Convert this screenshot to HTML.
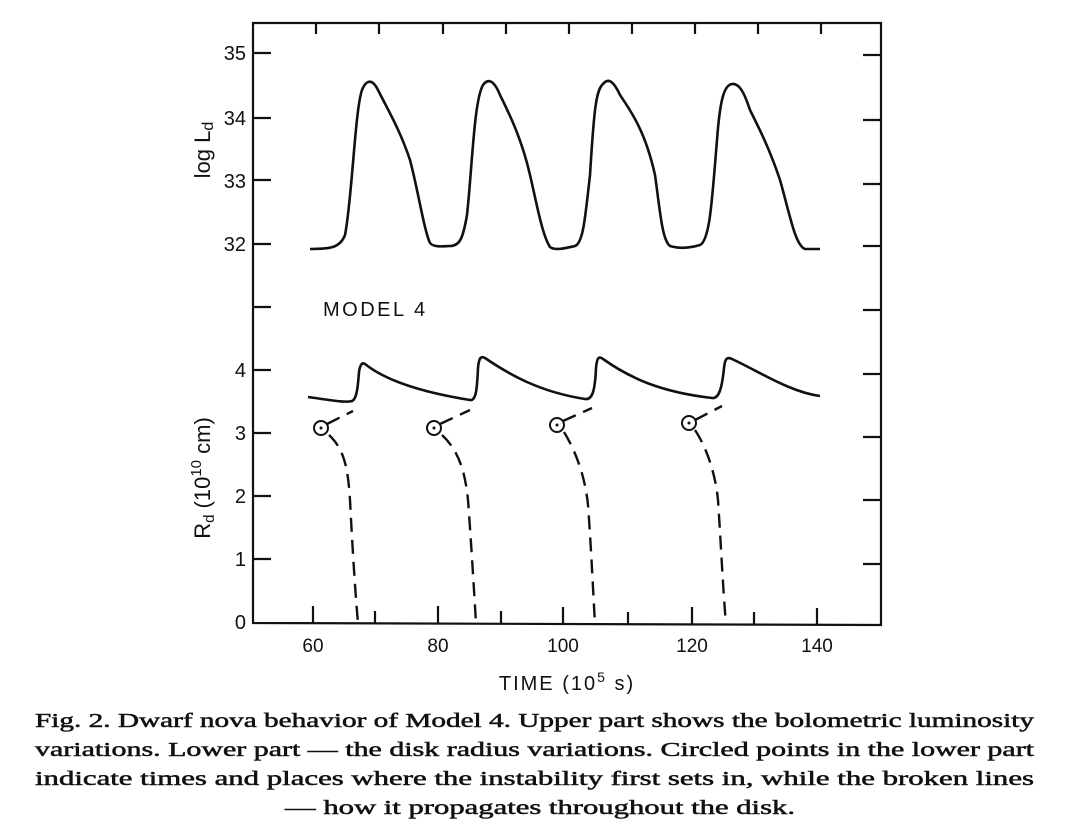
<!DOCTYPE html>
<html><head><meta charset="utf-8"><style>
html,body{margin:0;padding:0;background:#fff;}
svg{display:block;}
</style></head><body>
<svg width="1074" height="840" viewBox="0 0 1074 840" xmlns="http://www.w3.org/2000/svg">
<g fill="none" stroke="#111" stroke-width="2.2">
<path d="M253,23 L881,23 L881,625 L253,623 Z"/>
<path d="M253,53h18M253,118h18M253,180h18M253,244h18M253,307h18M253,370h18M253,433h18M253,496h18M253,559h18"/>
<path d="M881,55h-18M881,120h-18M881,184h-18M881,246h-18M881,310h-18M881,374h-18M881,437h-18M881,500h-18M881,564h-18"/>
<path d="M316,23v11M379,23v11M443,23v11M506,23v11M569,23v11M632,23v11M695,23v11M758,23v11M821,23v11"/>
<path d="M313,623v-17M375,623v-12M438,623v-17M501,623v-12M563,624v-17M628,624v-12M692,624v-17M754,624v-12M817,625v-17"/>
</g>
<path fill="none" stroke="#111" stroke-width="2.6" d="M310,249 C330,249 340,248 345,235 C352,200 355,110 362,90 C366,80 372,78 378,90 C388,110 400,130 410,160 C418,190 424,230 430,243 C434,248 445,246 450,246 C460,246 463,238 467,215 C472,170 474,100 483,85 C488,78 494,80 500,95 C510,115 522,140 530,175 C536,200 542,235 550,247 C555,251 566,248 575,246 C583,243 585,220 590,175 C594,110 596,90 603,84 C608,78 613,80 620,95 C630,110 645,130 655,175 C660,210 662,240 670,246 C680,249 690,248 700,245 C710,240 712,200 717,140 C720,100 724,85 732,84 C740,83 745,95 750,110 C760,130 770,150 780,180 C790,215 795,245 805,249 L820,249"/>
<path fill="none" stroke="#111" stroke-width="2.6" d="M308,397 C330,400 345,403 352,401 C357,399 358,385 359,372 C360,365 362,362 365,364 C385,380 420,392 470,400 C476,401 477,390 478,368 C479,357 481,356 485,358 C510,375 540,392 585,399 C592,400 595,392 596,368 C597,357 599,356 603,359 C630,378 660,392 712,398 C719,399 722,388 724,368 C725,357 728,357 732,359 C760,372 790,392 820,396"/>
<g fill="none" stroke="#111" stroke-width="2.4" stroke-dasharray="14,8">
<path d="M327,424 L353,411"/>
<path d="M440,424 L470,410"/>
<path d="M563,421 L592,408"/>
<path d="M695,420 L722,406"/>
<path d="M329,435 C345,450 348,470 350,500 C352,540 355,590 358,623"/>
<path d="M442,435 C458,450 465,470 468,500 C471,540 474,590 476,623"/>
<path d="M564,432 C575,450 585,475 588,505 C591,545 593,590 595,624"/>
<path d="M695,430 C705,445 715,470 718,500 C721,545 723,590 726,624"/>
</g>
<g fill="none" stroke="#111" stroke-width="2">
<circle cx="321" cy="428" r="7"/><circle cx="434" cy="428" r="7"/>
<circle cx="557" cy="425" r="7"/><circle cx="689" cy="423" r="7"/>
</g>
<g fill="#111"><circle cx="321" cy="428" r="1.5"/><circle cx="434" cy="428" r="1.5"/><circle cx="557" cy="425" r="1.5"/><circle cx="689" cy="423" r="1.5"/></g>
<g font-family="Liberation Sans, DejaVu Sans, sans-serif" font-size="20" fill="#111" text-anchor="end">
<text x="246" y="60">35</text><text x="246" y="125">34</text><text x="246" y="188">33</text><text x="246" y="251">32</text>
<text x="246" y="377">4</text><text x="246" y="440">3</text><text x="246" y="503">2</text><text x="246" y="566">1</text><text x="246" y="629">0</text>
</g>
<g font-family="Liberation Sans, DejaVu Sans, sans-serif" font-size="19" fill="#111" text-anchor="middle">
<text x="313" y="652">60</text><text x="438" y="652">80</text><text x="563" y="652">100</text><text x="692" y="652">120</text><text x="817" y="652">140</text>
<text x="567" y="690" letter-spacing="2" font-size="20">TIME (10<tspan font-size="14" dy="-8">5</tspan><tspan dy="8"> s)</tspan></text>
</g>
<text x="323" y="316" font-family="Liberation Sans, DejaVu Sans, sans-serif" font-size="20" letter-spacing="2.5" fill="#111">MODEL 4</text>
<g font-family="Liberation Sans, DejaVu Sans, sans-serif" font-size="22" fill="#111" text-anchor="middle">
<text transform="translate(210,150) rotate(-90)">log L<tspan font-size="16" dy="3">d</tspan></text>
<text transform="translate(210,478) rotate(-90)">R<tspan font-size="15" dy="4">d</tspan><tspan dy="-4"> (10</tspan><tspan font-size="15" dy="-9">10</tspan><tspan dy="9"> cm)</tspan></text>
</g>
<g font-family="Liberation Serif, DejaVu Serif, serif" font-size="20" fill="#111" stroke="#111" stroke-width="0.5">
<text x="35" y="727" textLength="999" lengthAdjust="spacingAndGlyphs">Fig. 2. Dwarf nova behavior of Model 4. Upper part shows the bolometric luminosity</text>
<text x="35" y="756" textLength="999" lengthAdjust="spacingAndGlyphs">variations. Lower part — the disk radius variations. Circled points in the lower part</text>
<text x="35" y="785" textLength="999" lengthAdjust="spacingAndGlyphs">indicate times and places where the instability first sets in, while the broken lines</text>
<text x="285" y="814" textLength="510" lengthAdjust="spacingAndGlyphs">— how it propagates throughout the disk.</text>
</g>
</svg>
</body></html>
